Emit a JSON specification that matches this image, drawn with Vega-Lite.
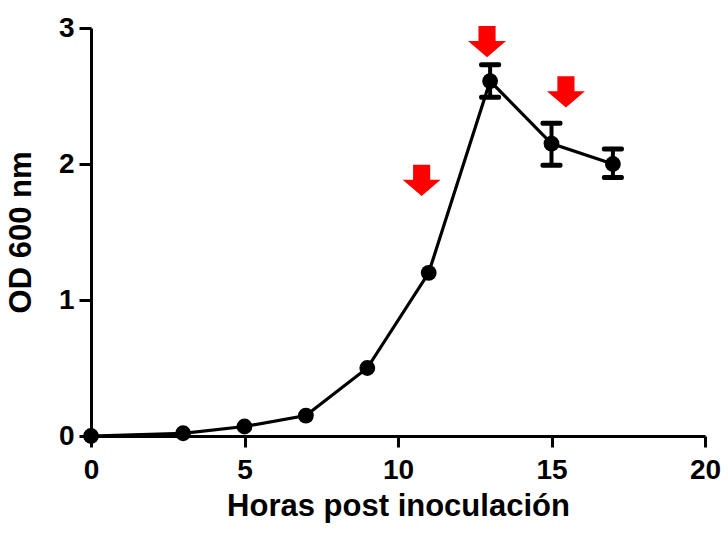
{
  "$schema": "https://vega.github.io/schema/vega-lite/v6.json",
  "autosize": "none",
  "width": 614,
  "height": 408,
  "padding": {"left": 91, "top": 28, "right": 23, "bottom": 99},
  "background": "white",
  "config": {
    "view": {"stroke": null},
    "font": "Liberation Sans",
    "axis": {
      "domainColor": "black", "domainWidth": 3, "tickColor": "black", "tickWidth": 3, "tickSize": 12,
      "labelFont": "Liberation Sans", "labelFontWeight": "bold", "labelFontSize": 28, "labelColor": "black",
      "titleFont": "Liberation Sans", "titleFontWeight": "bold", "titleFontSize": 31, "titleColor": "black",
      "grid": false
    }
  },
  "datasets": {
    "growth": [
      {"hora": 0, "od": 0.0, "lo": null, "hi": null},
      {"hora": 3, "od": 0.02, "lo": null, "hi": null},
      {"hora": 5, "od": 0.07, "lo": null, "hi": null},
      {"hora": 7, "od": 0.15, "lo": null, "hi": null},
      {"hora": 9, "od": 0.5, "lo": null, "hi": null},
      {"hora": 11, "od": 1.2, "lo": null, "hi": null},
      {"hora": 13, "od": 2.61, "lo": 2.49, "hi": 2.73},
      {"hora": 15, "od": 2.15, "lo": 1.99, "hi": 2.3},
      {"hora": 17, "od": 2.0, "lo": 1.9, "hi": 2.11}
    ],
    "arrows": [
      {"hora": 10.77, "od": 1.88},
      {"hora": 12.9, "od": 2.9},
      {"hora": 15.47, "od": 2.53}
    ]
  },
  "layer": [
    {
      "data": {"name": "growth"},
      "mark": {"type": "line", "color": "black", "strokeWidth": 3.2, "clip": false},
      "encoding": {
        "x": {"field": "hora", "type": "quantitative", "scale": {"domain": [0, 20], "nice": false},
          "axis": {"title": "Horas post inoculación", "values": [0, 5, 10, 15, 20], "tickSize": 11, "labelPadding": 9, "titlePadding": 7, "labelFlush": false, "format": "d"}},
        "y": {"field": "od", "type": "quantitative", "scale": {"domain": [0, 3], "nice": false},
          "axis": {"title": "OD 600 nm", "values": [0, 1, 2, 3], "format": "d", "labelPadding": 5, "titlePadding": 21}}
      }
    },
    {
      "data": {"name": "growth"},
      "transform": [{"filter": "datum.lo != null"}],
      "mark": {"type": "rule", "color": "black", "strokeWidth": 4},
      "encoding": {
        "x": {"field": "hora", "type": "quantitative"},
        "y": {"field": "lo", "type": "quantitative"},
        "y2": {"field": "hi"}
      }
    },
    {
      "data": {"name": "growth"},
      "transform": [{"filter": "datum.lo != null"}],
      "mark": {"type": "tick", "color": "black", "orient": "horizontal", "size": 22, "thickness": 5, "opacity": 1, "cornerRadius": 2},
      "encoding": {
        "x": {"field": "hora", "type": "quantitative"},
        "y": {"field": "lo", "type": "quantitative"}
      }
    },
    {
      "data": {"name": "growth"},
      "transform": [{"filter": "datum.lo != null"}],
      "mark": {"type": "tick", "color": "black", "orient": "horizontal", "size": 22, "thickness": 5, "opacity": 1, "cornerRadius": 2},
      "encoding": {
        "x": {"field": "hora", "type": "quantitative"},
        "y": {"field": "hi", "type": "quantitative"}
      }
    },
    {
      "data": {"name": "growth"},
      "mark": {"type": "point", "filled": true, "color": "black", "size": 250, "opacity": 1, "clip": false},
      "encoding": {
        "x": {"field": "hora", "type": "quantitative"},
        "y": {"field": "od", "type": "quantitative"}
      }
    },
    {
      "data": {"name": "arrows"},
      "mark": {"type": "point", "filled": true, "color": "#ff0000", "opacity": 1, "size": 1444,
        "shape": "M -0.45 -0.82 L 0.45 -0.82 L 0.45 -0.03 L 1 -0.03 L 0 0.82 L -1 -0.03 L -0.45 -0.03 Z"},
      "encoding": {
        "x": {"field": "hora", "type": "quantitative"},
        "y": {"field": "od", "type": "quantitative"}
      }
    }
  ]
}
